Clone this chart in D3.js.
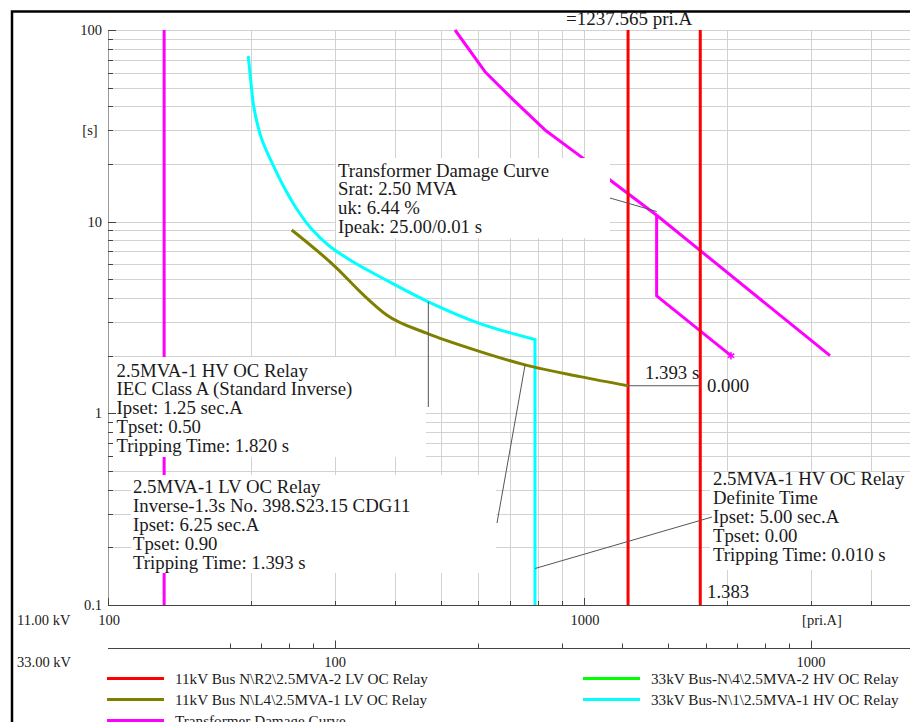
<!DOCTYPE html>
<html>
<head>
<meta charset="utf-8">
<script src="https://cdn.jsdelivr.net/npm/d3@7"></script>
<style>
  html, body { margin: 0; padding: 0; background: #fff; }
  svg { display: block; font-family: "Liberation Serif", "Times New Roman", serif; }
</style>
</head>
<body>
<svg id="chart" width="910" height="722"></svg>
<script>
// ---- Curve data: current [pri.A, referred to 11 kV] and tripping time [s] ----

// 33kV Bus-N\1\2.5MVA-1 HV OC Relay (IEC standard inverse + high-set)
const hvRelayAmps = [197.2, 199.4, 202.0, 205.3, 210.3, 216.8, 222.5, 233.6, 249.2, 267.8, 292.6, 333.1, 378.8, 470.9, 604.7, 788.9];
const hvRelaySecs = [72.1, 54.8, 41.1, 33.5, 27.0, 22.5, 19.6, 15.35, 11.65, 9.16, 7.42, 6.01, 5.05, 3.82, 2.94, 2.43];
const hvInstantAmps = 788.9;
const hvInstantSecs = [2.43, 0.1];

// 11kV Bus N\L4\2.5MVA-1 LV OC Relay (CDG11 inverse)
const lvRelayAmps = [243.2, 300, 344, 385, 467, 605, 752, 981, 1237.565];
const lvRelaySecs = [9.05, 5.83, 4.15, 3.26, 2.62, 2.10, 1.79, 1.554, 1.393];

// Transformer damage curve (through-fault withstand) and its frequent-fault branch
const damageAmps = [535.8, 619.4, 710.5, 827.9, 996.5, 1134, 1421, 3287];
const damageSecs = [100, 60.6, 43.2, 30.1, 21.4, 16.5, 10.8, 2.0];
const faultBranchAmps = [1421, 1421, 2036];
const faultBranchSecs = [10.8, 4.10, 2.0];

// Transformer rated current line and the 11kV Bus N\R2 LV relay settings
const ratedAmps = 131.2;
const lvSettingAmps = [1237.565, 1755];
const fullTimeSpan = [100, 0.1];

// Tick labels
const timeTickValues = [0.1, 1, 10, 100];
const timeTickLabels = ["0.1", "1", "10", "100"];
const kv11TickValues = [100, 1000];
const kv33TickValues = [100, 1000];
const kv33MinorTicks = [60, 70, 80, 90, 200, 300, 400, 500, 600, 700, 800, 900];

// Legend
const legendNames = [
  "11kV Bus N\\R2\\2.5MVA-2 LV OC Relay",
  "11kV Bus N\\L4\\2.5MVA-1 LV OC Relay",
  "Transformer Damage Curve",
  "33kV Bus-N\\4\\2.5MVA-2 HV OC Relay",
  "33kV Bus-N\\1\\2.5MVA-1 HV OC Relay"
];
const legendColors = ["#ff0000", "#808000", "#ff00ff", "#00ff00", "#00ffff"];

// Note texts
const damageNote = ["Transformer Damage Curve", "Srat: 2.50 MVA", "uk: 6.44 %", "Ipeak: 25.00/0.01 s"];
const hvNote = ["2.5MVA-1 HV OC Relay", "IEC Class A (Standard Inverse)", "Ipset: 1.25 sec.A", "Tpset: 0.50", "Tripping Time: 1.820 s"];
const lvNote = ["2.5MVA-1 LV OC Relay", "Inverse-1.3s No. 398.S23.15 CDG11", "Ipset: 6.25 sec.A", "Tpset: 0.90", "Tripping Time: 1.393 s"];
const dtNote = ["2.5MVA-1 HV OC Relay", "Definite Time", "Ipset: 5.00 sec.A", "Tpset: 0.00", "Tripping Time: 0.010 s"];

// ---- Layout ----
const plotLeft = 108, plotRight = 910, plotTop = 30, plotBottom = 605;
const textColor = "#1a1a1a";
const gridColor = "#d2d2d2";

const svg = d3.select("#chart");

const x = d3.scaleLog().domain([100, 1000]).range([plotLeft, 584]);
const y = d3.scaleLog().domain([100, 0.1]).range([plotTop, plotBottom]);
// 33 kV currents referred to the 11 kV axis (ratio 3)
const x33 = d3.scaleLog().domain([100, 1000]).range([x(300), x(3000)]);
const xFull = x.copy().domain([100, x.invert(plotRight)]).range([plotLeft, plotRight]);

// Outer frame
svg.append("path")
  .attr("d", `M12,722 L12,11.5 L910,11.5`)
  .attr("fill", "none").attr("stroke", "#000").attr("stroke-width", 2.5);

// Grid
const grid = svg.append("g");
grid.selectAll("line.v").data(xFull.ticks()).join("line")
  .attr("x1", d => Math.round(x(d)) + 0.5).attr("x2", d => Math.round(x(d)) + 0.5)
  .attr("y1", plotTop).attr("y2", plotBottom)
  .attr("stroke", gridColor).attr("stroke-width", 1);
grid.selectAll("line.h").data(y.ticks()).join("line")
  .attr("x1", plotLeft).attr("x2", plotRight)
  .attr("y1", d => Math.round(y(d)) + 0.5).attr("y2", d => Math.round(y(d)) + 0.5)
  .attr("stroke", gridColor).attr("stroke-width", 1);

// Curves
const curves = svg.append("g").attr("fill", "none").attr("stroke-width", 3)
  .attr("stroke-linejoin", "round");

const smooth = d3.line().x(d => x(d[0])).y(d => y(d[1])).curve(d3.curveCatmullRom.alpha(0.5));
const monotone = d3.line().x(d => x(d[0])).y(d => y(d[1])).curve(d3.curveMonotoneX);
const straight = d3.line().x(d => x(d[0])).y(d => y(d[1]));

// Rated current
curves.append("path").attr("stroke", "#ff00ff")
  .attr("d", straight(fullTimeSpan.map(t => [ratedAmps, t])));

// Damage curve
curves.append("path").attr("stroke", "#ff00ff")
  .attr("d", straight(damageAmps.map((a, i) => [a, damageSecs[i]])));
curves.append("path").attr("stroke", "#ff00ff")
  .attr("d", straight(faultBranchAmps.map((a, i) => [a, faultBranchSecs[i]])));
// end marker of the frequent-fault branch
const starAmp = faultBranchAmps[faultBranchAmps.length - 1];
const starSec = faultBranchSecs[faultBranchSecs.length - 1];
svg.append("path")
  .attr("transform", `translate(${x(starAmp)},${y(starSec)})`)
  .attr("d", d3.symbol(d3.symbolAsterisk, 40)())
  .attr("stroke", "#ff00ff").attr("stroke-width", 1.5).attr("fill", "none");

// LV relay settings (red)
lvSettingAmps.forEach(a => {
  curves.append("path").attr("stroke", "#ff0000")
    .attr("d", straight(fullTimeSpan.map(t => [a, t])));
});

// HV relay (cyan)
curves.append("path").attr("stroke", "#00ffff").attr("stroke-linecap", "round")
  .attr("d", smooth(hvRelayAmps.map((a, i) => [a, hvRelaySecs[i]])));
curves.append("path").attr("stroke", "#00ffff")
  .attr("d", straight(hvInstantSecs.map(t => [hvInstantAmps, t])));

// LV relay (olive)
curves.append("path").attr("stroke", "#808000")
  .attr("d", monotone(lvRelayAmps.map((a, i) => [a, lvRelaySecs[i]])));

// Note boxes: white background that hides the grid and curves behind the text
function noteBox(x0, y0, x1, y1) {
  svg.append("rect").attr("x", x0).attr("y", y0)
    .attr("width", x1 - x0).attr("height", y1 - y0).attr("fill", "#fff");
}
noteBox(336, 158, 610, 238);
noteBox(110, 357, 426, 457);
noteBox(131, 475, 496, 573);
noteBox(710, 472, 910, 570);

// Leader lines
const leaders = svg.append("g").attr("stroke", "#555").attr("stroke-width", 1).attr("fill", "none");
function leader(p0, p1) {
  leaders.append("line").attr("x1", p0[0]).attr("y1", p0[1]).attr("x2", p1[0]).attr("y2", p1[1]);
}
leader([610, 198], [x(1421), y(11.3)]);
leader([x(470.9), y(3.82)], [x(470.9), 407]);
leader([x(752), y(1.79)], [497, 523]);
leader([x(hvInstantAmps), y(0.155)], [712, 517]);
leader([x(lvSettingAmps[0]), y(1.393)], [x(lvSettingAmps[1]), y(1.393)]);

// Note texts
function note(lines, x0, base, step) {
  const t = svg.append("text").attr("fill", textColor).attr("font-size", 18.8);
  lines.forEach((s, i) => t.append("tspan").attr("x", x0).attr("y", base + i * step).text(s));
}
note(damageNote, 338, 176.5, 18.8);
note(hvNote, 116.5, 376.5, 18.8);
note(lvNote, 133, 493.3, 19);
note(dtNote, 713, 484.5, 19);

svg.append("text").attr("x", 566).attr("y", 25).attr("font-size", 19).attr("fill", textColor)
  .text("=" + lvSettingAmps[0].toFixed(3) + " pri.A");
svg.append("text").attr("x", 645).attr("y", 379).attr("font-size", 18.8).attr("fill", textColor)
  .text(lvRelaySecs[lvRelaySecs.length - 1].toFixed(3) + " s");
svg.append("text").attr("x", 707).attr("y", 392).attr("font-size", 18.8).attr("fill", textColor)
  .text("0.000");
svg.append("text").attr("x", 707).attr("y", 598).attr("font-size", 18.8).attr("fill", textColor)
  .text("1.383");

// Axes
const axes = svg.append("g").attr("stroke", "#444").attr("stroke-width", 1);
axes.append("line").attr("x1", plotLeft + 0.5).attr("x2", plotLeft + 0.5)
  .attr("y1", plotTop).attr("y2", plotBottom).attr("stroke", "#999");
axes.append("line").attr("x1", plotLeft).attr("x2", plotRight)
  .attr("y1", plotBottom + 0.5).attr("y2", plotBottom + 0.5);
// time ticks
axes.selectAll("line.yt").data(y.ticks()).join("line")
  .attr("x1", plotLeft).attr("x2", d => plotLeft + (timeTickValues.includes(d) ? 8 : 5))
  .attr("y1", d => Math.round(y(d)) + 0.5).attr("y2", d => Math.round(y(d)) + 0.5);
// 11 kV current ticks
axes.selectAll("line.xt").data(xFull.ticks()).join("line")
  .attr("x1", d => Math.round(x(d)) + 0.5).attr("x2", d => Math.round(x(d)) + 0.5)
  .attr("y1", plotBottom).attr("y2", d => plotBottom - (kv11TickValues.includes(d) ? 7 : 4));
// 33 kV axis
const y33 = 648.5;
axes.append("line").attr("x1", plotLeft).attr("x2", plotRight).attr("y1", y33).attr("y2", y33);
axes.selectAll("line.x33").data(kv33MinorTicks.concat(kv33TickValues)).join("line")
  .attr("x1", d => Math.round(x33(d)) + 0.5).attr("x2", d => Math.round(x33(d)) + 0.5)
  .attr("y1", y33).attr("y2", d => y33 - (kv33TickValues.includes(d) ? 8 : 5));

const labels = svg.append("g").attr("fill", textColor).attr("font-size", 14.5);
labels.selectAll("text.yl").data(timeTickValues).join("text")
  .attr("x", 102).attr("y", d => y(d) + 5).attr("text-anchor", "end")
  .text((d, i) => timeTickLabels[i]);
labels.append("text").attr("x", 90).attr("y", 135).attr("text-anchor", "middle").text("[s]");
labels.selectAll("text.x11").data(kv11TickValues).join("text")
  .attr("x", d => x(d) + 1).attr("y", 625).attr("text-anchor", "middle").text(d => d);
labels.append("text").attr("x", 822).attr("y", 625).attr("text-anchor", "middle").text("[pri.A]");
labels.append("text").attr("x", 17).attr("y", 625).text("11.00 kV");
labels.selectAll("text.x33").data(kv33TickValues).join("text")
  .attr("x", d => x33(d)).attr("y", 667).attr("text-anchor", "middle").text(d => d);
labels.append("text").attr("x", 17).attr("y", 667).text("33.00 kV");

// Legend
const legendPos = [[107, 678.5], [107, 699.5], [107, 720.5], [583, 678.5], [583, 699.5]];
const legend = svg.append("g");
legendNames.forEach((name, i) => {
  const [lx, ly] = legendPos[i];
  legend.append("line").attr("x1", lx).attr("x2", lx + 57).attr("y1", ly).attr("y2", ly)
    .attr("stroke", legendColors[i]).attr("stroke-width", 3);
  legend.append("text").attr("x", lx + 68).attr("y", ly + 5).attr("font-size", 15.2)
    .attr("fill", textColor).text(name);
});
</script>
</body>
</html>
